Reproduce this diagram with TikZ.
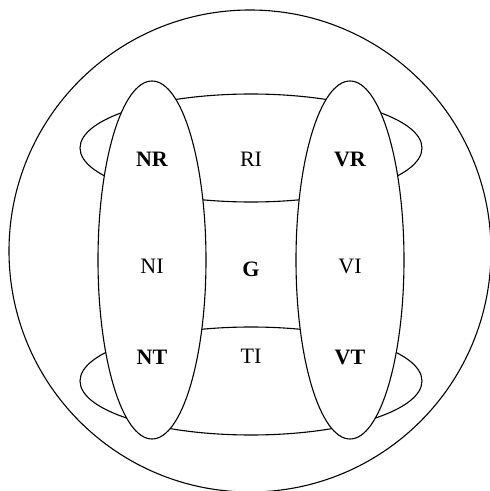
\documentclass[tikz,border=0pt]{standalone}
\usepackage{fontspec}
\setmainfont{Liberation Serif}
\begin{document}
\begin{tikzpicture}[x=1pt,y=1pt,
  outline/.style={draw=black,line width=1.1pt},
  ring/.style={outline,fill=white},
  lab/.style={font=\fontsize{22}{24}\selectfont},
  blab/.style={font=\fontsize{22}{24}\selectfont\bfseries}]
\useasboundingbox (0,0) rectangle (490,491);
\clip (0,0) rectangle (490,491);
% outer circle
\draw[outline] (250,240) circle (241);
% horizontal ellipses
\draw[ring] (251,343) ellipse (171 and 54);
\draw[ring] (251,110) ellipse (171 and 54);
% vertical ellipses
\draw[ring] (152,231) ellipse (54 and 179);
\draw[ring] (350,231) ellipse (54 and 179);
% labels
\node[blab] (NR) at (152,332) {NR};
\node[lab]  (RI) at (251,332) {RI};
\node[blab] (VR) at (350,332) {VR};
\node[lab]  (NI) at (152,225) {NI};
\node[blab] (G)  at (251,222) {G};
\node[lab]  (VI) at (350,225) {VI};
\node[blab] (NT) at (152,134) {NT};
\node[lab]  (TI) at (251,135) {TI};
\node[blab] (VT) at (350,134) {VT};
\end{tikzpicture}
\end{document}
